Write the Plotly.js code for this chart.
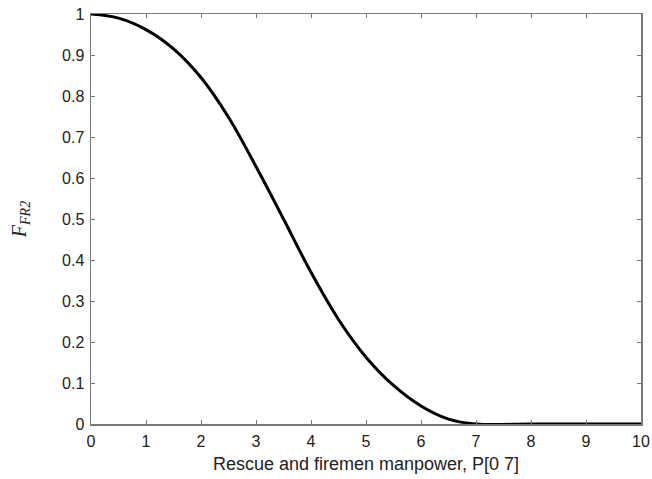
<!DOCTYPE html>
<html>
<head>
<meta charset="utf-8">
<script src="https://cdn.plot.ly/plotly-3.0.1.min.js"></script>
<style>html,body{margin:0;padding:0;background:#fff;}#chart{width:652px;height:479px;}</style>
</head>
<body>
<div id="chart"></div>
<script>
const manpower = [0, 0.5, 1, 1.5, 2, 2.5, 3, 3.5, 4, 4.5, 5, 5.5, 6, 6.5, 7, 8, 9, 10];
const fFR2 = [1.0, 0.99, 0.962, 0.915, 0.845, 0.748, 0.628, 0.50, 0.37, 0.255, 0.163, 0.094, 0.044, 0.012, 0.0, 0.0, 0.0, 0.0];
const xTicks = [0,1,2,3,4,5,6,7,8,9,10];
const yTicks = [0,0.1,0.2,0.3,0.4,0.5,0.6,0.7,0.8,0.9,1];

const axisCommon = {
  showgrid: false, zeroline: false, showline: true, mirror: 'ticks',
  linecolor: '#7a7a7a', linewidth: 1.5,
  ticks: 'inside', ticklen: 4, tickcolor: '#7a7a7a', tickwidth: 1,
  tickfont: {family: 'Liberation Sans, Arial, sans-serif', size: 16, color: '#222'}
};

Plotly.newPlot('chart', [{
  x: manpower, y: fFR2, type: 'scatter', mode: 'lines',
  line: {color: '#000', width: 3, shape: 'spline', smoothing: 1},
  hoverinfo: 'skip'
}], {
  width: 652, height: 479,
  margin: {l: 91, r: 11, t: 14, b: 55},
  paper_bgcolor: '#fff', plot_bgcolor: '#fff',
  showlegend: false,
  xaxis: Object.assign({}, axisCommon, {
    range: [0, 10], tickvals: xTicks, ticktext: xTicks.map(String),
    ticklabelstandoff: 2,
    title: {text: 'Rescue and firemen manpower, P[0 7]', standoff: 8,
      font: {family: 'Liberation Sans, Arial, sans-serif', size: 18, color: '#222'}}
  }),
  yaxis: Object.assign({}, axisCommon, {
    range: [0, 1], tickvals: yTicks, ticktext: yTicks.map(String),
    ticklabelstandoff: 2,
    title: {text: '<i>F</i><sub><i>FR2</i></sub>', standoff: 30,
      font: {family: 'Liberation Serif, Times New Roman, serif', size: 20, color: '#222'}}
  })
}, {displayModeBar: false, staticPlot: true});
</script>
</body>
</html>
